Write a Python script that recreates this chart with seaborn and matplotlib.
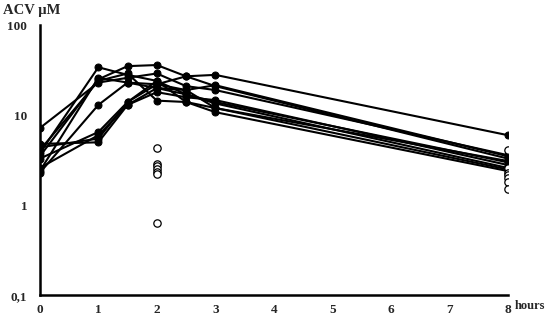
import pandas as pd
import matplotlib.pyplot as plt
import seaborn as sns

# time points (hours)
horas = [0, 1, 1.5, 2, 2.5, 3, 8]

# ACV concentration per patient (uM)
p1 = [3.8, 34, 28, 24, 17, 14, 3.0]
p2 = [3.5, 25, 35, 36, 27, 21, 3.3]
p3 = [7.2, 23, 26, 29, 21, 19, 3.6]
p4 = [2.3, 13, 23, 20, 17, 13.5, 2.6]
p5 = [3.3, 6.5, 14, 22, 27, 28, 6.0]
p6 = [2.6, 6.0, 13, 20, 19, 12, 2.5]
p7 = [4.8, 5.0, 13, 18, 15.8, 14.7, 2.8]
p8 = [4.4, 5.5, 14, 24, 14, 10.8, 2.4]
p9 = [4.1, 24, 29, 14.5, 14, 12, 3.1]
p10 = [2.4, 26, 23, 22, 19, 21.5, 3.5]
pacientes = [p1, p2, p3, p4, p5, p6, p7, p8, p9, p10]

# open circles (single samples at 2 h and 8 h)
abertos_t = [2, 2, 2, 2, 2, 2, 2, 8, 8, 8, 8, 8, 8, 8]
abertos_v = [4.3, 2.9, 2.7, 2.5, 2.35, 2.25, 0.63, 4.1, 2.6, 2.3, 2.15, 2.0, 1.8, 1.5]

linhas = []
for i, vals in enumerate(pacientes):
    for t, v in zip(horas, vals):
        linhas.append({'paciente': i, 'hora': t, 'acv': v})
df = pd.DataFrame(linhas)
df_ab = pd.DataFrame({'hora': abertos_t, 'acv': abertos_v})

sns.set_style('white')
plt.rcParams['font.family'] = ['Liberation Serif', 'DejaVu Serif']
plt.rcParams['font.weight'] = 'bold'

fig = plt.figure(figsize=(5.46, 3.17), dpi=100)
ax = fig.add_axes([0.073, 0.068, 0.857, 0.853])

sns.lineplot(data=df, x='hora', y='acv', units='paciente', estimator=None,
             color='black', linewidth=1.5, marker='o', markersize=5,
             markeredgecolor='black', ax=ax)
sns.scatterplot(data=df_ab, x='hora', y='acv', facecolor='white',
                edgecolor='black', linewidth=0.9, s=28, zorder=4, ax=ax)

ax.set_yscale('log')
ax.set_xlim(0, 8)
ax.set_ylim(0.1, 100)
ax.set_xticks(range(0, 9))
ax.set_yticks([0.1, 1, 10, 100])
ax.set_yticklabels(['0,1', '1', '10', '100'])
ax.minorticks_off()
ax.tick_params(direction='inout', length=8, width=1.5, labelsize=9.5)
ax.tick_params(axis='x', pad=2)
ax.tick_params(axis='y', pad=5)
for lab in ax.get_xticklabels() + ax.get_yticklabels():
    lab.set_fontweight('bold')

for lado in ['top', 'right']:
    ax.spines[lado].set_visible(False)
for lado in ['left', 'bottom']:
    ax.spines[lado].set_linewidth(1.8)
    ax.spines[lado].set_color('black')

ax.set_xlabel('')
ax.set_ylabel('')
fig.text(0.005, 0.945, 'ACV µM', fontsize=10.5, fontweight='bold', va='bottom')
fig.text(0.998, 0.015, 'hours', fontsize=9, fontweight='bold',
         ha='right', va='bottom')

fig.savefig('out.png', dpi=100)
